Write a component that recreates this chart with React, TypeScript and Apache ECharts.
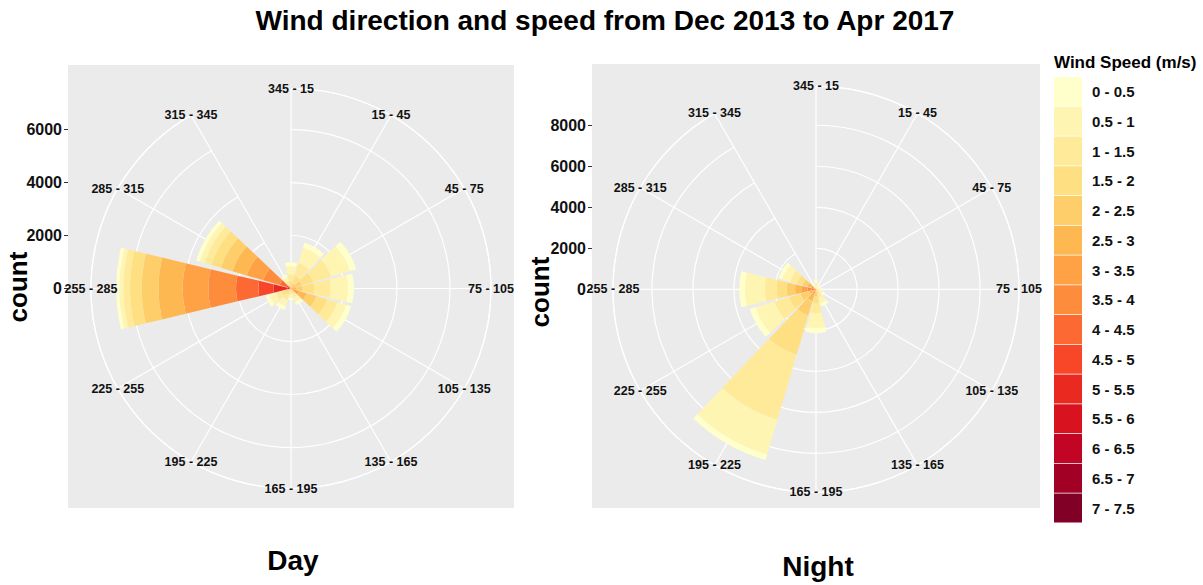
import React, { useEffect, useRef } from 'react';
import * as echarts from 'echarts';

// ---- categories ----
const DIRECTIONS = ['345 - 15', '15 - 45', '45 - 75', '75 - 105', '105 - 135', '135 - 165', '165 - 195', '195 - 225', '225 - 255', '255 - 285', '285 - 315', '315 - 345'];
const SPEED_BINS = ['0 - 0.5', '0.5 - 1', '1 - 1.5', '1.5 - 2', '2 - 2.5', '2.5 - 3', '3 - 3.5', '3.5 - 4', '4 - 4.5', '4.5 - 5', '5 - 5.5', '5.5 - 6', '6 - 6.5', '6.5 - 7', '7 - 7.5'];
const SPEED_COLORS = ['#FFFFCC', '#FFF5B3', '#FFEA9A', '#FEDF82', '#FECE6A', '#FEB852', '#FEA245', '#FD8D3C', '#FC6932', '#F84728', '#EA2920', '#D8131F', '#C20425', '#A30026', '#800026'];

// ---- Day counts per speed bin (one value per direction, in DIRECTIONS order) ----
const DAY_0_05 = [150, 200, 250, 230, 200, 120, 100, 150, 140, 125, 150, 100];
const DAY_05_1 = [300, 600, 750, 650, 350, 180, 130, 250, 260, 150, 190, 150];
const DAY_1_15 = [250, 500, 700, 620, 400, 140, 100, 200, 230, 250, 265, 120];
const DAY_15_2 = [150, 280, 450, 430, 420, 100, 60, 130, 160, 440, 375, 90];
const DAY_2_25 = [80, 130, 250, 250, 380, 60, 35, 70, 100, 630, 450, 60];
const DAY_25_3 = [40, 60, 110, 120, 300, 30, 15, 30, 60, 915, 565, 30];
const DAY_3_35 = [20, 30, 50, 60, 200, 20, 10, 20, 30, 970, 640, 10];
const DAY_35_4 = [0, 0, 10, 15, 90, 0, 0, 0, 20, 1045, 650, 0];
const DAY_4_45 = [0, 0, 0, 0, 30, 0, 0, 0, 0, 840, 280, 0];
const DAY_45_5 = [0, 0, 0, 0, 0, 0, 0, 0, 0, 565, 130, 0];
const DAY_5_55 = [0, 0, 0, 0, 0, 0, 0, 0, 0, 530, 40, 0];
const DAY_55_6 = [0, 0, 0, 0, 0, 0, 0, 0, 0, 120, 0, 0];
const DAY_6_65 = [0, 0, 0, 0, 0, 0, 0, 0, 0, 20, 0, 0];
const DAY_65_7 = [0, 0, 0, 0, 0, 0, 0, 0, 0, 0, 0, 0];
const DAY_7_75 = [0, 0, 0, 0, 0, 0, 0, 0, 0, 0, 0, 0];

// ---- Night counts per speed bin ----
const NIGHT_0_05 = [120, 70, 60, 80, 100, 150, 245, 290, 290, 280, 195, 70];
const NIGHT_05_1 = [170, 90, 70, 110, 160, 300, 730, 1760, 975, 975, 390, 90];
const NIGHT_1_15 = [90, 50, 40, 60, 100, 200, 490, 3320, 730, 570, 340, 50];
const NIGHT_15_2 = [40, 25, 20, 30, 50, 120, 340, 2000, 585, 490, 290, 25];
const NIGHT_2_25 = [20, 15, 10, 15, 30, 70, 200, 730, 440, 405, 245, 15];
const NIGHT_25_3 = [0, 0, 0, 5, 10, 30, 100, 340, 245, 325, 195, 0];
const NIGHT_3_35 = [0, 0, 0, 0, 0, 10, 30, 150, 100, 280, 145, 0];
const NIGHT_35_4 = [0, 0, 0, 0, 0, 0, 0, 70, 0, 210, 100, 0];
const NIGHT_4_45 = [0, 0, 0, 0, 0, 0, 0, 30, 0, 160, 0, 0];
const NIGHT_45_5 = [0, 0, 0, 0, 0, 0, 0, 0, 0, 50, 0, 0];
const NIGHT_5_55 = [0, 0, 0, 0, 0, 0, 0, 0, 0, 0, 0, 0];
const NIGHT_55_6 = [0, 0, 0, 0, 0, 0, 0, 0, 0, 0, 0, 0];
const NIGHT_6_65 = [0, 0, 0, 0, 0, 0, 0, 0, 0, 0, 0, 0];
const NIGHT_65_7 = [0, 0, 0, 0, 0, 0, 0, 0, 0, 0, 0, 0];
const NIGHT_7_75 = [0, 0, 0, 0, 0, 0, 0, 0, 0, 0, 0, 0];

const DAY_COUNTS = [DAY_0_05, DAY_05_1, DAY_1_15, DAY_15_2, DAY_2_25, DAY_25_3, DAY_3_35, DAY_35_4, DAY_4_45, DAY_45_5, DAY_5_55, DAY_55_6, DAY_6_65, DAY_65_7, DAY_7_75];
const NIGHT_COUNTS = [NIGHT_0_05, NIGHT_05_1, NIGHT_1_15, NIGHT_15_2, NIGHT_2_25, NIGHT_25_3, NIGHT_3_35, NIGHT_35_4, NIGHT_4_45, NIGHT_45_5, NIGHT_5_55, NIGHT_55_6, NIGHT_6_65, NIGHT_65_7, NIGHT_7_75];

// ---- radial scale ----
const COUNT_INTERVAL = 2000;
const DAY_OUTER = 7550;
const NIGHT_OUTER = 9900;
const DAY_TOP_TICK = 6000;
const NIGHT_TOP_TICK = 8000;

const TITLE = 'Wind direction and speed from Dec 2013 to Apr 2017';
const LEGEND_TITLE = 'Wind Speed (m/s)';

// ---- layout ----
const FONT = '"Liberation Sans", Arial, sans-serif';
const DAY_CENTER = [291, 288.5];
const DAY_R = 200;
const NIGHT_CENTER = [816, 289.3];
const NIGHT_R = 203;
const DAY_PANEL = { x: 68, y: 65, width: 446, height: 443 };
const NIGHT_PANEL = { x: 592, y: 64, width: 448, height: 444 };
const TEXT_COLOR = '#111111';
const GRID_LINE = { color: '#ffffff', width: 1.2 };

export default function App() {
  const ref = useRef<HTMLDivElement>(null);

  useEffect(() => {
    if (!ref.current) return;
    const chart = echarts.init(ref.current, undefined, { renderer: 'svg' });

    const panels = [
      { counts: DAY_COUNTS, outer: DAY_OUTER },
      { counts: NIGHT_COUNTS, outer: NIGHT_OUTER },
    ];

    const series: any[] = [];
    panels.forEach((p, pi) => {
      for (let b = SPEED_BINS.length - 1; b >= 0; b--) {
        series.push({
          type: 'bar',
          coordinateSystem: 'polar',
          polarIndex: pi,
          name: SPEED_BINS[b],
          stack: 'panel' + pi,
          data: p.counts[b],
          barCategoryGap: '10%',
          itemStyle: { color: SPEED_COLORS[b] },
          silent: true,
        });
      }
      series.push({
        type: 'scatter',
        name: 'dirlabels' + pi,
        coordinateSystem: 'polar',
        polarIndex: pi,
        data: DIRECTIONS.map((d) => [p.outer, d]),
        symbolSize: 0,
        clip: false,
        silent: true,
        z: 10,
        itemStyle: { opacity: 1 },
        label: {
          show: true,
          position: 'inside',
          formatter: (prm: any) => prm.value[1],
          fontSize: 12.5,
          fontWeight: 'bold',
          fontFamily: FONT,
          color: TEXT_COLOR,
          opacity: 1,
          textBorderWidth: 0,
          textBorderColor: 'transparent',
        },
      });
    });

    const angleAxisBase = {
      type: 'category',
      data: DIRECTIONS,
      boundaryGap: false,
      startAngle: 90,
      clockwise: true,
      axisLine: { show: true, lineStyle: GRID_LINE },
      axisTick: { show: false },
      axisLabel: { show: false },
      splitLine: { show: true, lineStyle: GRID_LINE },
    };
    const radiusAxisBase = {
      type: 'value',
      min: 0,
      interval: COUNT_INTERVAL,
      axisLine: { show: false },
      axisTick: { show: false },
      axisLabel: { show: false },
      splitLine: { show: true, lineStyle: GRID_LINE },
    };
    const yAxisBase = {
      type: 'value',
      min: 0,
      interval: COUNT_INTERVAL,
      axisLine: { show: false },
      axisTick: { show: true, length: 4, lineStyle: { color: '#333' } },
      axisLabel: { margin: 6, fontSize: 16, fontWeight: 'bold', color: TEXT_COLOR, fontFamily: FONT, formatter: (v: number) => String(v) },
      splitLine: { show: false },
    };

    const dayH = (DAY_TOP_TICK * DAY_R) / DAY_OUTER;
    const nightH = (NIGHT_TOP_TICK * NIGHT_R) / NIGHT_OUTER;

    chart.setOption({
      animation: false,
      backgroundColor: '#ffffff',
      textStyle: { fontFamily: FONT },
      polar: [
        { center: DAY_CENTER, radius: DAY_R },
        { center: NIGHT_CENTER, radius: NIGHT_R },
      ],
      angleAxis: [
        { ...angleAxisBase, polarIndex: 0 },
        { ...angleAxisBase, polarIndex: 1 },
      ],
      radiusAxis: [
        { ...radiusAxisBase, polarIndex: 0, max: DAY_OUTER },
        { ...radiusAxisBase, polarIndex: 1, max: NIGHT_OUTER },
      ],
      grid: [
        { left: DAY_PANEL.x, top: DAY_CENTER[1] - dayH, width: 10, height: dayH },
        { left: NIGHT_PANEL.x, top: NIGHT_CENTER[1] - nightH, width: 10, height: nightH },
      ],
      xAxis: [
        { gridIndex: 0, type: 'value', show: false },
        { gridIndex: 1, type: 'value', show: false },
      ],
      yAxis: [
        { ...yAxisBase, gridIndex: 0, max: DAY_TOP_TICK },
        { ...yAxisBase, gridIndex: 1, max: NIGHT_TOP_TICK },
      ],
      legend: {
        data: SPEED_BINS,
        orient: 'vertical',
        left: 1054,
        top: 77,
        padding: 0,
        itemWidth: 28,
        itemHeight: 29,
        itemGap: 0.75,
        icon: 'rect',
        selectedMode: false,
        textStyle: { fontSize: 15, fontWeight: 'bold', color: TEXT_COLOR, fontFamily: FONT, padding: [0, 0, 0, 5] },
      },
      graphic: [
        { type: 'rect', z: -10, silent: true, shape: DAY_PANEL, style: { fill: '#EBEBEB' } },
        { type: 'rect', z: -10, silent: true, shape: NIGHT_PANEL, style: { fill: '#EBEBEB' } },
        { type: 'text', x: 605, y: 20, style: { text: TITLE, align: 'center', verticalAlign: 'middle', fontSize: 28, fontWeight: 'bold', fontFamily: FONT, fill: '#000' } },
        { type: 'text', x: 293, y: 560, style: { text: 'Day', align: 'center', verticalAlign: 'middle', fontSize: 28, fontWeight: 'bold', fontFamily: FONT, fill: '#000' } },
        { type: 'text', x: 818, y: 566, style: { text: 'Night', align: 'center', verticalAlign: 'middle', fontSize: 28, fontWeight: 'bold', fontFamily: FONT, fill: '#000' } },
        { type: 'text', x: 18, y: 287, rotation: Math.PI / 2, style: { text: 'count', align: 'center', verticalAlign: 'middle', fontSize: 26, fontWeight: 'bold', fontFamily: FONT, fill: '#000' } },
        { type: 'text', x: 540, y: 292, rotation: Math.PI / 2, style: { text: 'count', align: 'center', verticalAlign: 'middle', fontSize: 26, fontWeight: 'bold', fontFamily: FONT, fill: '#000' } },
        { type: 'text', x: 1054, y: 62, style: { text: LEGEND_TITLE, align: 'left', verticalAlign: 'middle', fontSize: 17, fontWeight: 'bold', fontFamily: FONT, fill: '#000' } },
      ],
      series,
    });

    return () => chart.dispose();
  }, []);

  return <div ref={ref} style={{ position: 'fixed', left: 0, top: 0, width: 1203, height: 585 }} />;
}
